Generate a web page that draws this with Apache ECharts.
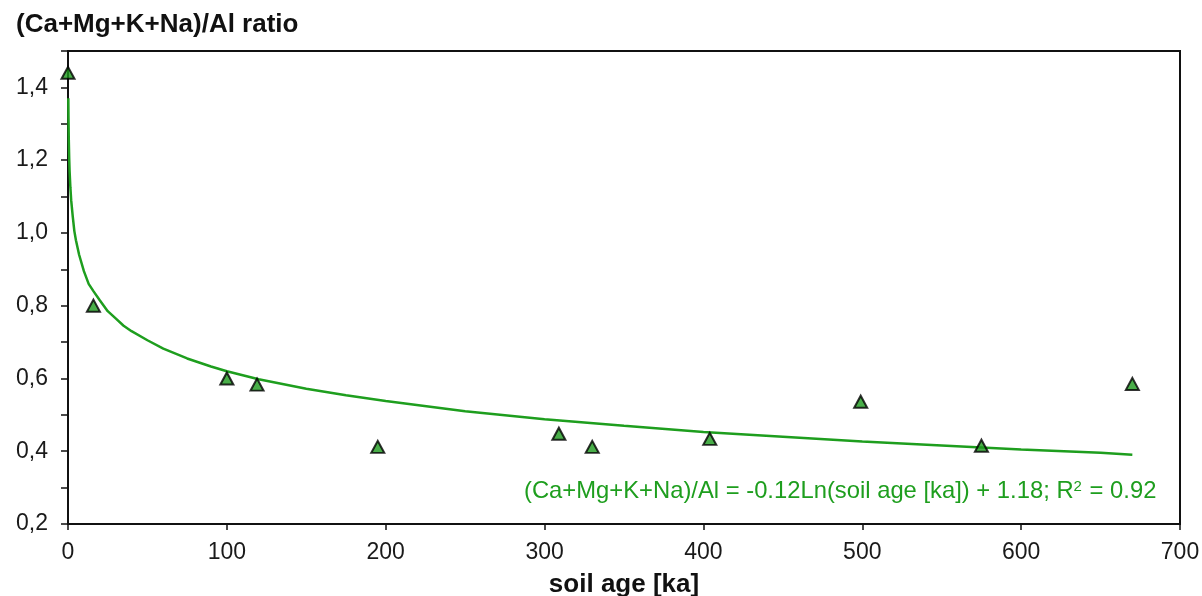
<!DOCTYPE html>
<html>
<head>
    <meta http-equiv="Content-Type" content="text/html; charset=utf-8"/>
    <script src="https://cdn.jsdelivr.net/npm/echarts@6/dist/echarts.min.js"></script>
    <style>
        html, body {margin: 0; padding: 0; background: #fff;}
    </style>
</head>
<body>
<div id="main" style="width:1202px;height:596px;"></div>

<script type="text/javascript">
    // measured soil samples: age [ka] and (Ca+Mg+K+Na)/Al ratio
    var soilAge = [0, 16, 100, 119, 195, 309, 330, 404, 499, 575, 670];
    var ratio = [1.44, 0.80, 0.60, 0.583, 0.412, 0.448, 0.412, 0.434, 0.536, 0.415, 0.585];

    // fitted log trend
    var trendAge = [0.2, 0.3, 0.5, 0.75, 1, 1.5, 2, 3, 4, 5, 7, 10, 13, 16, 20, 25, 30, 35, 40, 50, 60, 75, 90, 100, 120, 150, 175, 200, 250, 300, 350, 400, 450, 500, 550, 600, 650, 670];
    var trendRatio = [1.37, 1.32, 1.255, 1.205, 1.17, 1.125, 1.09, 1.045, 1.005, 0.98, 0.94, 0.895, 0.86, 0.84, 0.815, 0.785, 0.765, 0.745, 0.73, 0.705, 0.682, 0.655, 0.633, 0.62, 0.598, 0.572, 0.554, 0.538, 0.51, 0.488, 0.47, 0.453, 0.44, 0.427, 0.416, 0.405, 0.396, 0.39];

    var xTicks = [0, 100, 200, 300, 400, 500, 600, 700];
    var yTicks = [0.2, 0.4, 0.6, 0.8, 1.0, 1.2, 1.4];

    var green = '#1e9e1e';

    var points = soilAge.map(function (a, i) { return [a, ratio[i]]; });
    var trend = trendAge.map(function (a, i) { return [a, trendRatio[i]]; });

    var myChart = echarts.init(document.getElementById('main'));
    var option = {
        backgroundColor: '#fff',
        animation: false,
        textStyle: {fontFamily: 'Liberation Sans, Arial, sans-serif'},
        title: {
            text: '(Ca+Mg+K+Na)/Al ratio',
            left: 11,
            top: 7,
            textStyle: {fontSize: 26, fontWeight: 'bold', color: '#111'}
        },
        grid: {
            left: 68, right: 22, top: 51, bottom: 72,
            outerBoundsMode: 'none',
            show: true, borderColor: '#111', borderWidth: 2
        },
        xAxis: {
            type: 'value',
            min: xTicks[0],
            max: xTicks[xTicks.length - 1],
            interval: 100,
            name: 'soil age [ka]',
            nameLocation: 'middle',
            nameGap: 48,
            nameTextStyle: {fontSize: 26, fontWeight: 'bold', color: '#111'},
            axisLine: {lineStyle: {color: '#111', width: 2}},
            axisTick: {show: true, length: 6, lineStyle: {color: '#111', width: 1.5}},
            axisLabel: {fontSize: 23, color: '#1a1a1a', margin: 17},
            splitLine: {show: false}
        },
        yAxis: {
            type: 'value',
            min: yTicks[0],
            max: 1.5,
            interval: 0.2,
            axisLine: {show: true, lineStyle: {color: '#111', width: 2}},
            axisTick: {show: true, length: 7, lineStyle: {color: '#111', width: 1.5}},
            minorTick: {show: true, splitNumber: 2, length: 7, lineStyle: {color: '#111', width: 1.5}},
            axisLabel: {
                fontSize: 23, color: '#1a1a1a', margin: 20,
                formatter: function (v) {
                    if (yTicks.indexOf(Math.round(v * 10) / 10) < 0) return '';
                    return v.toFixed(1).replace('.', ',');
                }
            },
            splitLine: {show: false}
        },
        series: [
            {
                name: 'trend',
                type: 'line',
                data: trend,
                showSymbol: false,
                smooth: false,
                lineStyle: {color: green, width: 2.5},
                z: 2
            },
            {
                name: 'samples',
                type: 'scatter',
                data: points,
                symbol: 'triangle',
                symbolSize: [13, 12],
                itemStyle: {color: '#1b9a1b', borderColor: '#000', borderWidth: 2},
                z: 3
            }
        ],
        graphic: [
            {
                type: 'text',
                left: 524,
                top: 479,
                style: {
                    text: '(Ca+Mg+K+Na)/Al = -0.12Ln(soil age [ka]) + 1.18; R{sup|2} = 0.92',
                    rich: {sup: {fontSize: 15, verticalAlign: 'top', padding: [0, 1, 9, 0], fill: green}},
                    fontSize: 23.8,
                    fontFamily: 'Liberation Sans, Arial, sans-serif',
                    fill: green
                }
            }
        ]
    };
    myChart.setOption(option);
</script>
</body>
</html>
